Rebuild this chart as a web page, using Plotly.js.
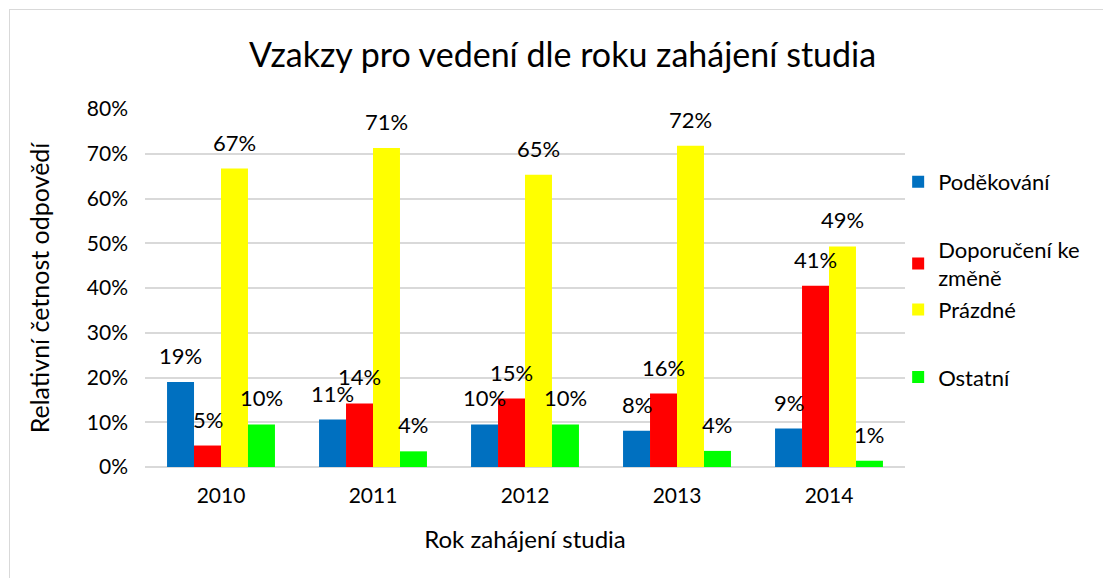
<!DOCTYPE html>
<html>
<head>
<meta charset="utf-8">
<script src="https://cdn.plot.ly/plotly-3.0.1.min.js"></script>
<style>
  html, body { margin: 0; padding: 0; background: #fff; }
  #frame { position: absolute; left: 9px; top: 9px; width: 1200px; height: 700px; border: 1px solid #d9d9d9; }
  #chart { position: absolute; left: 0; top: 0; width: 1103px; height: 578px; }
</style>
</head>
<body>
<div id="frame"></div>
<div id="chart"></div>
<script>
const years = ['2010', '2011', '2012', '2013', '2014'];
const podekovani = [0.190, 0.106, 0.095, 0.081, 0.086];
const doporuceni = [0.048, 0.142, 0.153, 0.164, 0.405];
const prazdne    = [0.667, 0.713, 0.653, 0.718, 0.493];
const ostatni    = [0.095, 0.035, 0.095, 0.036, 0.014];
const seriesNames = ['Poděkování', 'Doporučení ke<br>změně', 'Prázdné', 'Ostatní'];
const seriesColors = ['#0070c0', '#ff0000', '#ffff00', '#00ff00'];
const legendGroups = ['a', 'b', 'b', 'c'];
const FONT = 'Lato, "Open Sans", sans-serif';

const W = 1103, H = 578;
const M = { l: 145, r: 198, t: 109, b: 111, pad: 0 };
const BARGAP = 0.29;

const allValues = [podekovani, doporuceni, prazdne, ostatni];
const traces = allValues.map((vals, i) => ({
  type: 'bar',
  x: years,
  y: vals,
  name: seriesNames[i],
  legendgroup: legendGroups[i],
  marker: { color: seriesColors[i] },
  hoverinfo: 'skip'
}));

// data labels (Excel style "outside end") placed with the library's scales
const catPx = (W - M.l - M.r) / years.length;
const barPx = catPx * (1 - BARGAP) / allValues.length;
const annotations = [];
allValues.forEach((vals, i) => {
  vals.forEach((v, j) => {
    annotations.push({
      x: j, y: v, xref: 'x', yref: 'y',
      text: Math.round(v * 100) + '%',
      showarrow: false,
      xanchor: 'center', yanchor: 'bottom',
      xshift: (i - (allValues.length - 1) / 2) * barPx,
      yshift: 11,
      font: { family: FONT, size: 22, color: '#000' }
    });
  });
});

const layout = {
  width: W,
  height: H,
  paper_bgcolor: 'rgba(0,0,0,0)',
  plot_bgcolor: 'rgba(0,0,0,0)',
  margin: M,
  barmode: 'group',
  bargap: BARGAP,
  bargroupgap: 0,
  font: { family: FONT, color: '#000' },
  title: {
    text: 'Vzakzy pro vedení dle roku zahájení studia',
    font: { family: FONT, size: 34, color: '#000' },
    x: 0.51, xanchor: 'center',
    y: 0.905, yanchor: 'middle'
  },
  xaxis: {
    type: 'category',
    range: [-0.5, years.length - 0.5],
    autorange: false,
    tickfont: { family: FONT, size: 21, color: '#000' },
    title: { text: 'Rok zahájení studia', font: { family: FONT, size: 24, color: '#000' }, standoff: 25 },
    showline: false,
    ticks: '',
    ticklabelstandoff: 14
  },
  yaxis: {
    range: [0, 0.8],
    autorange: false,
    dtick: 0.1,
    tickformat: '.0%',
    tickfont: { family: FONT, size: 21, color: '#000' },
    gridcolor: '#d9d9d9',
    gridwidth: 2,
    zeroline: true,
    zerolinecolor: '#d9d9d9',
    zerolinewidth: 2,
    showline: false,
    ticks: '',
    ticklabelstandoff: 16,
    title: { text: 'Relativní četnost odpovědí', font: { family: FONT, size: 25, color: '#000' }, standoff: 30 }
  },
  annotations: annotations,
  legend: {
    x: 0.991, xanchor: 'left',
    y: 0.855, yanchor: 'top',
    font: { family: FONT, size: 22, color: '#000' },
    tracegroupgap: 36,
    traceorder: 'grouped',
    itemwidth: 30,
    bgcolor: 'rgba(0,0,0,0)'
  },
  showlegend: true
};

Plotly.newPlot('chart', traces, layout, { displayModeBar: false, staticPlot: true });
</script>
</body>
</html>
